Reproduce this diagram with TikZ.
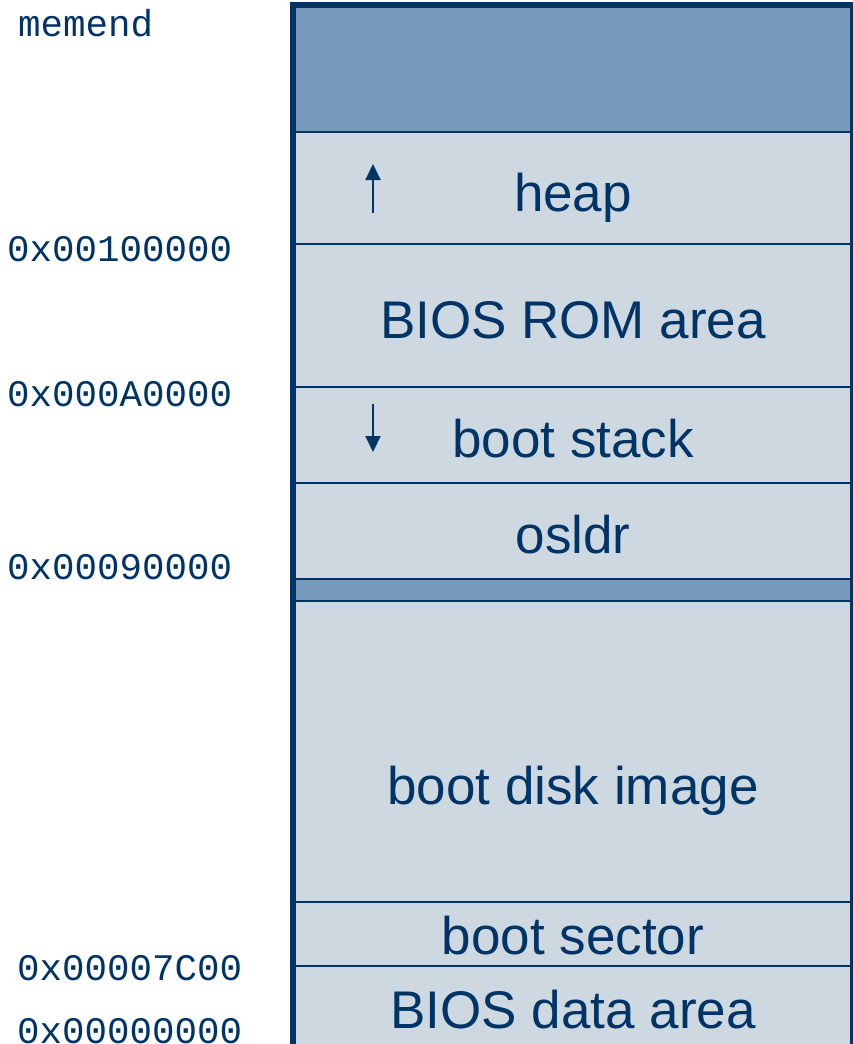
\documentclass[tikz,border=0pt]{standalone}
\usepackage{fontspec}
\setmainfont{Liberation Sans}
\newfontfamily\addrfont{Liberation Mono}
\usetikzlibrary{arrows.meta}
\definecolor{navy}{HTML}{003366}
\definecolor{bandblue}{HTML}{7799BB}
\definecolor{cellgrey}{HTML}{CDD8E0}
\tikzset{
  cell/.style={fill=cellgrey},
  band/.style={fill=bandblue},
  divider/.style={draw=navy, line width=2pt},
  frame/.style={draw=navy, line width=6pt},
  regionlabel/.style={text=navy, anchor=base, inner sep=0pt,
    font=\fontsize{53}{60}\selectfont},
  addrlabel/.style={text=navy, anchor=base west, inner sep=0pt,
    font=\addrfont\fontsize{37.5}{42}\selectfont},
  growth/.style={draw=navy, line width=2pt, -{Triangle[width=15pt,length=16pt]}}
}
\begin{document}
\begin{tikzpicture}[x=1pt,y=-1pt]
\useasboundingbox (0,0) rectangle (853,1044);
\clip (0,0) rectangle (853,1044);

% memory regions, top to bottom
\path[band] (293,5) rectangle (853,132);
\path[cell] (293,132) rectangle (853,244);
\path[cell] (293,244) rectangle (853,387);
\path[cell] (293,387) rectangle (853,483);
\path[cell] (293,483) rectangle (853,579);
\path[band] (293,579) rectangle (853,601);
\path[cell] (293,601) rectangle (853,902);
\path[cell] (293,902) rectangle (853,966);
\path[cell] (293,966) rectangle (853,1060);

% region boundaries
\foreach \yy in {132,244,387,483,579,601,902,966}
  \draw[divider] (293,\yy) -- (853,\yy);

% outer frame
\draw[frame] (293,1060) -- (293,5) -- (853,5) -- (853,1060);

% region names
\node[regionlabel] (heap) at (573,211) {heap};
\node[regionlabel] (biosrom) at (573,338) {BIOS ROM area};
\node[regionlabel] (stack) at (573,457) {boot stack};
\node[regionlabel] (osldr) at (573,553) {osldr};
\node[regionlabel] (diskimg) at (573,804) {boot disk image};
\node[regionlabel] (bootsec) at (573,954) {boot sector};
\node[regionlabel] (biosdata) at (573,1028) {BIOS data area};

% growth directions
\coordinate (heapfrom) at (373,213);
\coordinate (heapto) at (373,164);
\coordinate (stackfrom) at (373,404);
\coordinate (stackto) at (373,452);
\draw[growth] (heapfrom) -- (heapto);
\draw[growth] (stackfrom) -- (stackto);

% addresses
\node[addrlabel] (amemend) at (18,36) {memend};
\node[addrlabel] (a100000) at (7,261) {0x00100000};
\node[addrlabel] (aA0000) at (7,406) {0x000A0000};
\node[addrlabel] (a90000) at (7,579) {0x00090000};
\node[addrlabel] (a7C00) at (17,980) {0x00007C00};
\node[addrlabel] (a0) at (17,1043) {0x00000000};
\end{tikzpicture}
\end{document}
